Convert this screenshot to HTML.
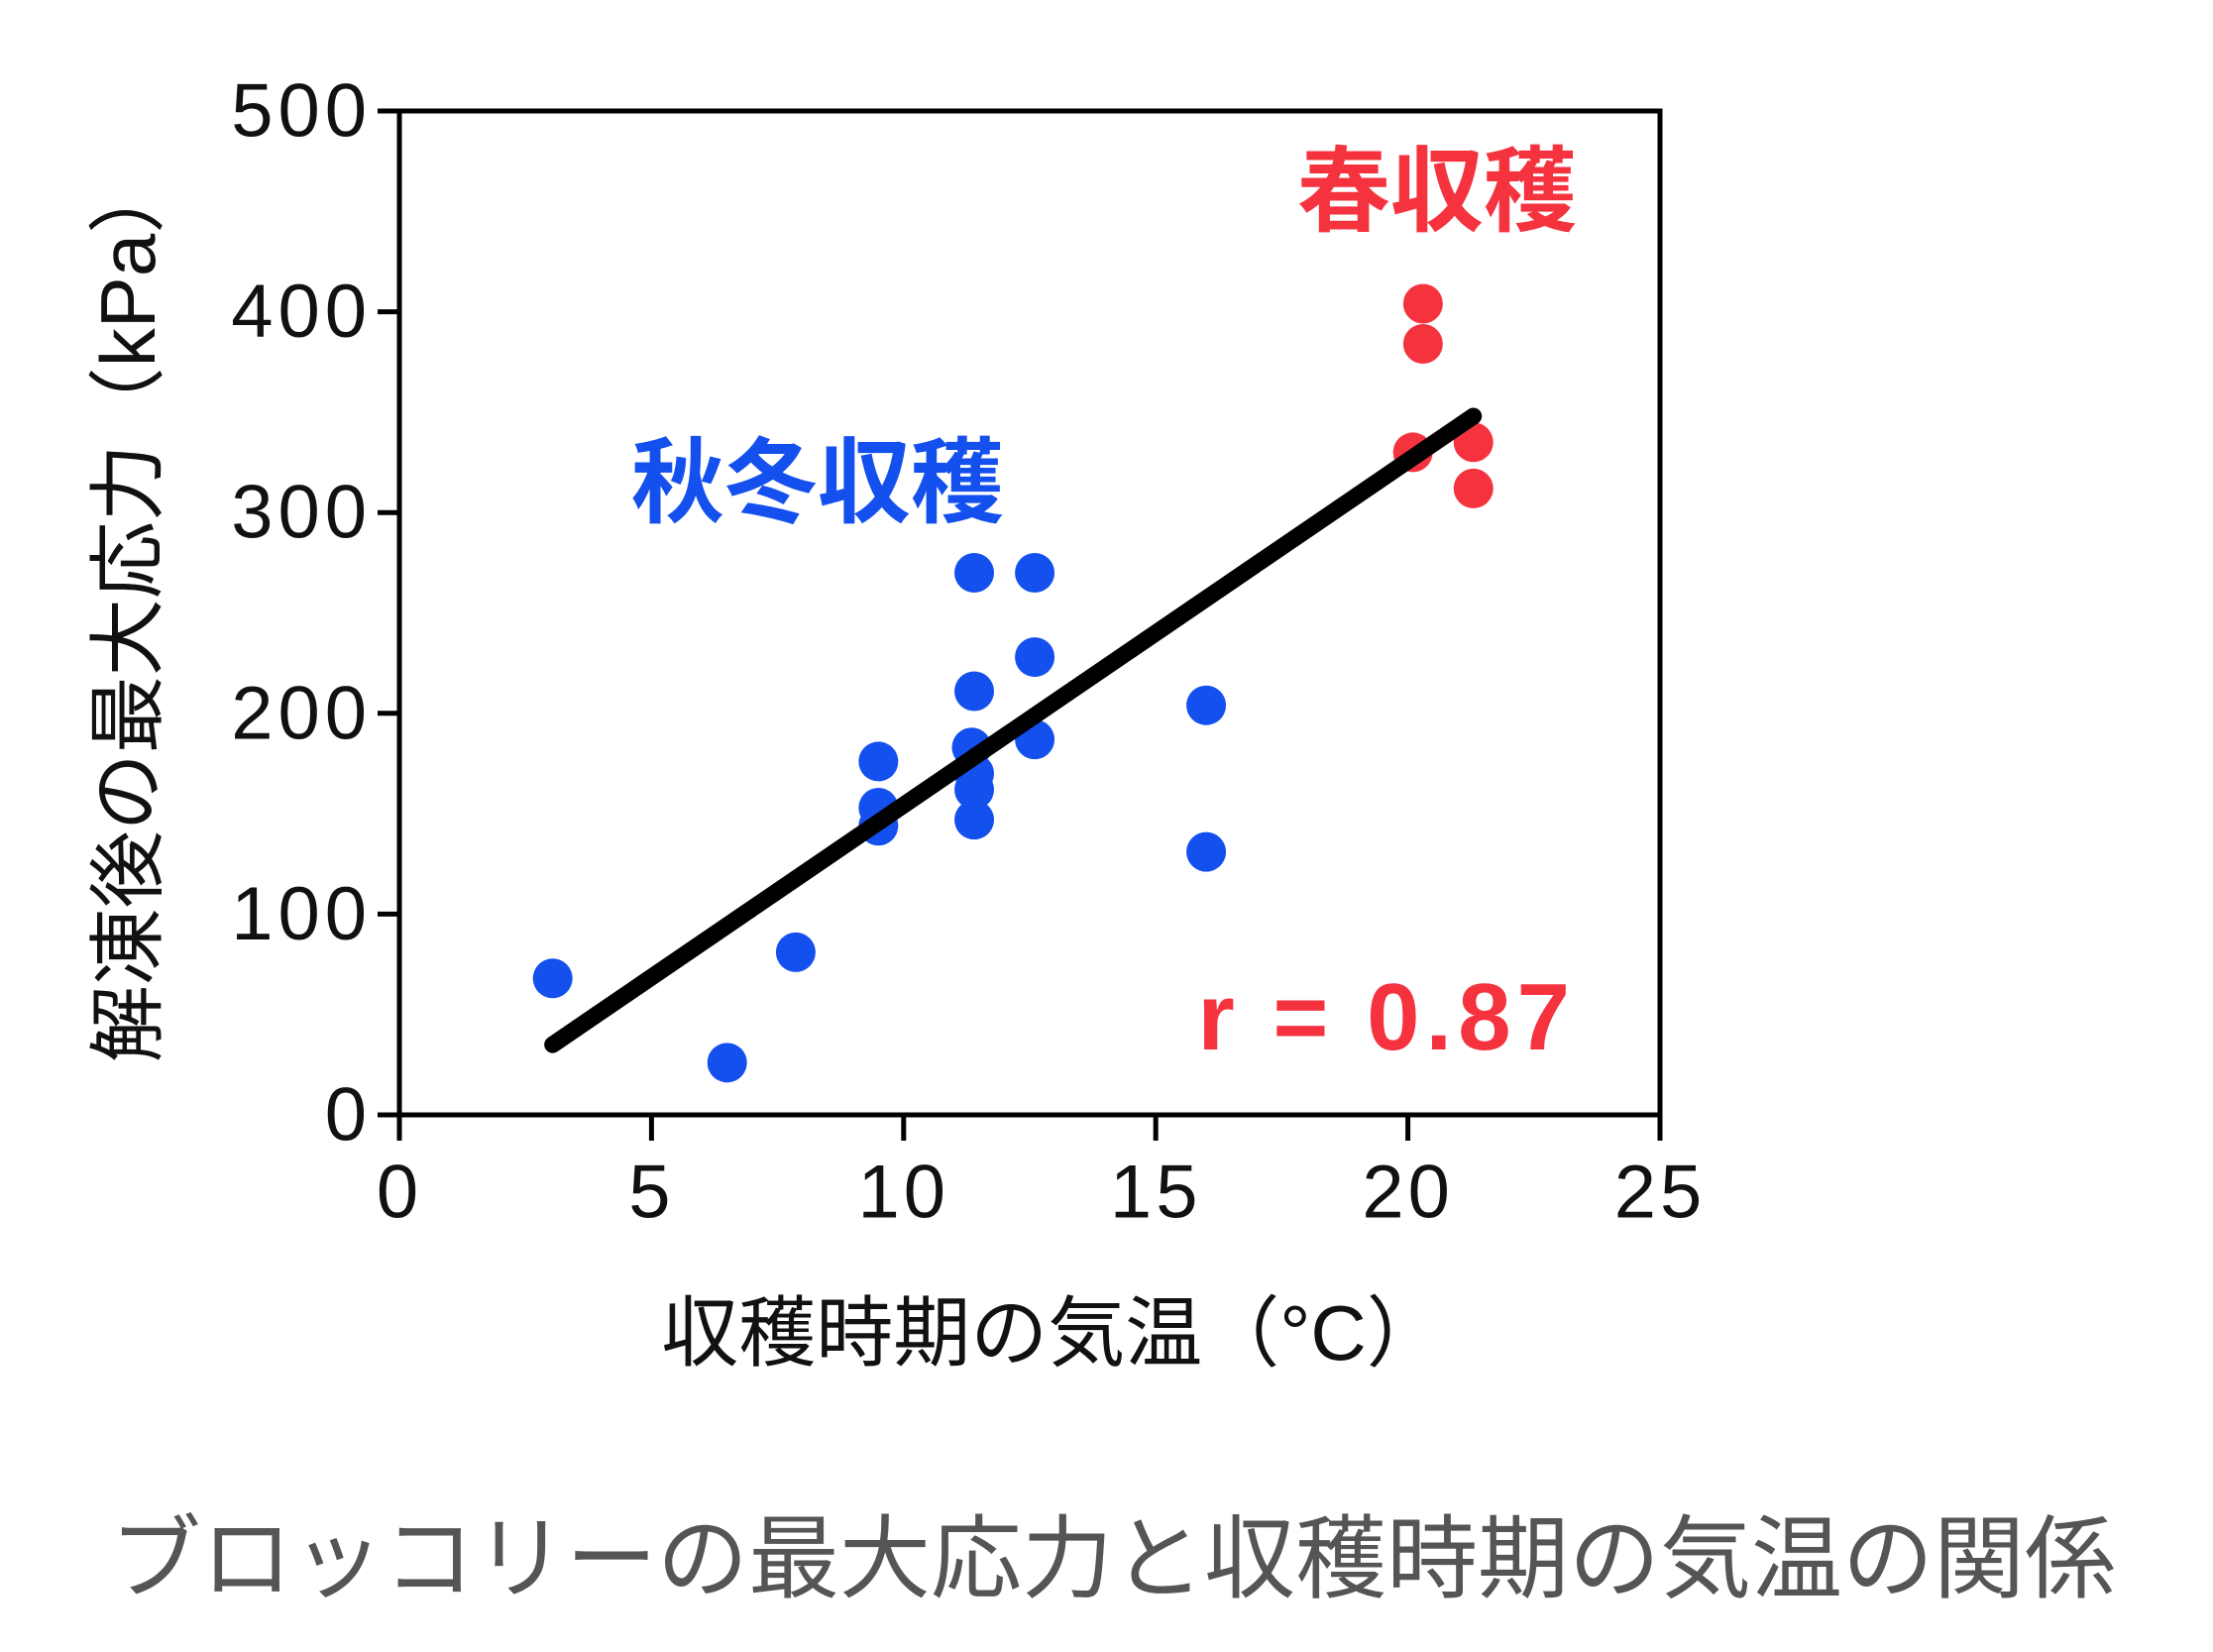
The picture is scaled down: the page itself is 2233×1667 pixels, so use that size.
<!DOCTYPE html>
<html><head><meta charset="utf-8"><style>
html,body{margin:0;padding:0;background:#fff;}
svg{display:block;}
text{font-family:"Liberation Sans","Noto Sans CJK JP",sans-serif;}
</style></head><body>
<svg id="chart" width="2233" height="1667" viewBox="0 0 2233 1667">
<g id="axes"></g>
<g id="marks"></g>
<text x="129" y="615" font-size="78" fill="#111" text-anchor="middle" dominant-baseline="central" transform="rotate(-90 129 615)">解凍後の最大応力（kPa）</text>
<text x="1062" y="1345" font-size="78" fill="#111" text-anchor="middle" dominant-baseline="central">収穫時期の気温（°C）</text>
<text x="825" y="487" font-size="94" font-weight="bold" fill="#1450ee" text-anchor="middle" dominant-baseline="central">秋冬収穫</text>
<text x="1450" y="193" font-size="94" font-weight="bold" fill="#f5333f" text-anchor="middle" dominant-baseline="central">春収穫</text>
<text x="1590" y="1059" font-size="96" font-weight="bold" fill="#f5333f" text-anchor="end" letter-spacing="6">r = 0.87</text>
<text x="1123" y="1574" font-size="92" fill="#555" text-anchor="middle" dominant-baseline="central">ブロッコリーの最大応力と収穫時期の気温の関係</text>
</svg>
<script>
const xTicks=[0,5,10,15,20,25];
const yTicks=[0,100,200,300,400,500];
const blueX=[3.04,6.5,7.86,9.5,9.5,9.5,11.4,11.4,11.35,11.4,11.4,11.4,12.6,12.6,12.6,16,16];
const blueY=[68,26,81,176,153,144,270,211,183,170,162,147,270,228,187,204,131];
const redX=[20.3,20.3,20.1,21.3,21.3];
const redY=[404,384,330,335,312];
const fitX=[3.04,21.3];
const fitY=[35,348];
const L=403,R=1675,T=112,B=1125;
const sx=v=>L+(v-0)/25*(R-L);
const sy=v=>B-(v-0)/500*(B-T);
const NS='http://www.w3.org/2000/svg';
const axes=document.getElementById('axes'),marks=document.getElementById('marks');
function mk(tag,attrs,parent){const e=document.createElementNS(NS,tag);for(const k in attrs)e.setAttribute(k,attrs[k]);parent.appendChild(e);return e;}
const frame=mk('rect',{x:L,y:T,width:R-L,height:B-T,fill:'none',stroke:'#000','stroke-width':5},axes);


xTicks.forEach(t=>{
  const ln=mk('line',{x1:sx(t),x2:sx(t),y1:B,y2:B+26,stroke:'#000','stroke-width':5},axes);
  
  
  const tx=mk('text',{x:sx(t),y:B+78,'font-size':76,'letter-spacing':4,'text-anchor':'middle','dominant-baseline':'central',fill:'#111'},axes);
  tx.textContent=t;
  
  
});
yTicks.forEach(t=>{
  const ln=mk('line',{x1:L-22,x2:L,y1:sy(t),y2:sy(t),stroke:'#000','stroke-width':5},axes);
  
  
  const tx=mk('text',{x:L-28,y:sy(t),'font-size':76,'letter-spacing':5,'text-anchor':'end','dominant-baseline':'central',fill:'#111'},axes);
  tx.textContent=t;
  
  
});
blueX.forEach((x,i)=>{
  const c=mk('circle',{cx:sx(x),cy:sy(blueY[i]),r:20,fill:'#1450ee'},marks);
  
  
});
redX.forEach((x,i)=>{
  const c=mk('circle',{cx:sx(x),cy:sy(redY[i]),r:20,fill:'#f5333f'},marks);
  
  
});
const fl=mk('line',{x1:sx(fitX[0]),y1:sy(fitY[0]),x2:sx(fitX[1]),y2:sy(fitY[1]),stroke:'#000','stroke-width':17,'stroke-linecap':'round'},marks);


</script>
</body></html>
